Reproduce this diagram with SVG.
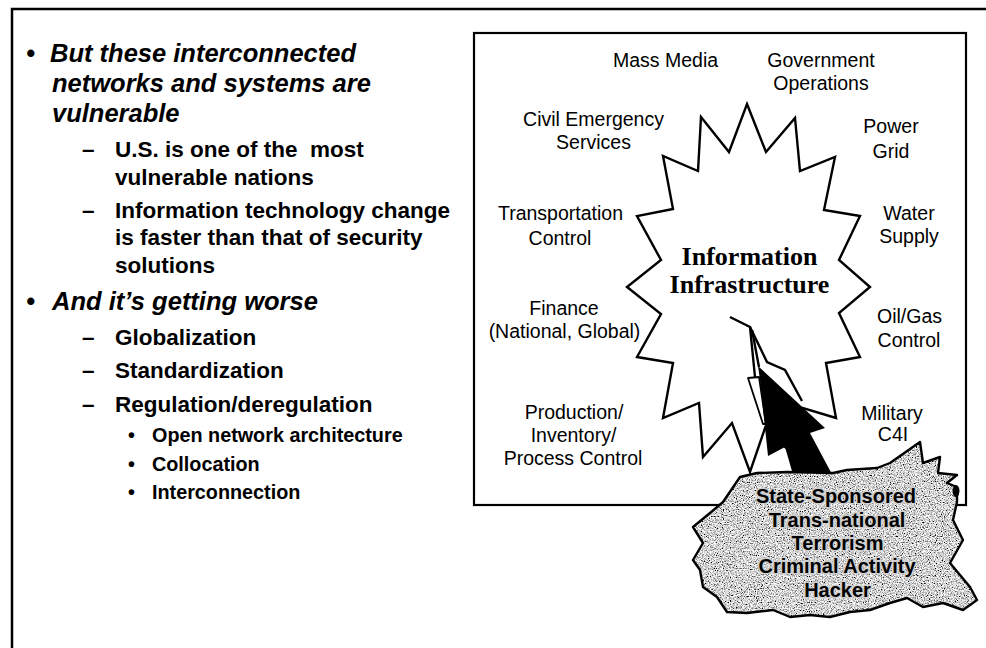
<svg xmlns="http://www.w3.org/2000/svg" width="986" height="648" viewBox="0 0 986 648">
<style>
.l1{font-family:"Liberation Sans",Arial,sans-serif;font-weight:bold;font-style:italic;font-size:25.5px;fill:#000}
.l2{font-family:"Liberation Sans",Arial,sans-serif;font-weight:bold;font-size:22.5px;fill:#000}
.l3{font-family:"Liberation Sans",Arial,sans-serif;font-weight:bold;font-size:19.8px;fill:#000}
.lab{font-family:"Liberation Sans",Arial,sans-serif;font-size:19.5px;fill:#000;text-anchor:middle}
.core{font-family:"Liberation Serif","Times New Roman",serif;font-weight:bold;font-size:26px;fill:#000;text-anchor:middle}
.thr{font-family:"Liberation Sans",Arial,sans-serif;font-weight:bold;font-size:20px;fill:#000;text-anchor:middle;stroke:#cfcfcf;stroke-width:3px;paint-order:stroke;stroke-linejoin:round}
.edge{fill:none;stroke:#000;stroke-width:2.4;stroke-linejoin:miter}
</style>
<defs>
<filter id="speckle" x="0" y="0" width="1" height="1">
<feTurbulence type="fractalNoise" baseFrequency="0.85" numOctaves="2" seed="7" result="noise"/>
<feColorMatrix in="noise" type="matrix" values="2.6 0 0 0 -0.65  2.6 0 0 0 -0.65  2.6 0 0 0 -0.65  0 0 0 0 1" result="gray"/>
<feComposite in="gray" in2="SourceGraphic" operator="in"/>
</filter>
</defs>
<rect width="986" height="648" fill="#fff"/>
<path d="M12,648 V9 H986" fill="none" stroke="#000" stroke-width="2.5"/>

<g id="text-left">
<text class="l1" x="26" y="62" font-style="normal">•</text>
<text class="l1" x="50" y="62">But these interconnected</text>
<text class="l1" x="52" y="92">networks and systems are</text>
<text class="l1" x="52" y="122">vulnerable</text>
<text class="l2" x="82" y="157">–</text>
<text class="l2" x="115" y="157">U.S. is one of the&#160; most</text>
<text class="l2" x="115" y="185">vulnerable nations</text>
<text class="l2" x="82" y="218">–</text>
<text class="l2" x="115" y="218">Information technology change</text>
<text class="l2" x="115" y="245">is faster than that of security</text>
<text class="l2" x="115" y="273">solutions</text>
<text class="l1" x="26" y="310" font-style="normal">•</text>
<text class="l1" x="52" y="310">And it’s getting worse</text>
<text class="l2" x="82" y="345">–</text>
<text class="l2" x="115" y="345">Globalization</text>
<text class="l2" x="82" y="378">–</text>
<text class="l2" x="115" y="378">Standardization</text>
<text class="l2" x="82" y="412">–</text>
<text class="l2" x="115" y="412">Regulation/deregulation</text>
<text class="l3" x="128" y="442">•</text>
<text class="l3" x="152" y="442">Open network architecture</text>
<text class="l3" x="128" y="471">•</text>
<text class="l3" x="152" y="471">Collocation</text>
<text class="l3" x="128" y="499">•</text>
<text class="l3" x="152" y="499">Interconnection</text>
</g>

<g id="frame">
<rect x="474" y="33" width="492" height="472" fill="#fff" stroke="#000" stroke-width="2.2"/>
</g>

<g id="info-infrastructure">
<polygon class="edge" fill="#fff" points="747,104 766,152 795,118 800,171 835,157 824,210 860,216 839,260 870,287 839,313 860,357 826,363 836,418 803,408 797,458 765,428 750,472 732,423 703,457 699,403 663,418 673,363 637,357 661,314 627,287 661,260 637,216 673,209 663,156 698,171 701,117 729,152"/>
<text class="core" x="749.5" y="265">Information</text>
<text class="core" x="749.5" y="293">Infrastructure</text>
</g>

<g id="label-mass-media"><text class="lab" x="665.5" y="67">Mass Media</text></g>
<g id="label-government"><text class="lab" x="821" y="67">Government</text><text class="lab" x="821" y="90">Operations</text></g>
<g id="label-civil"><text class="lab" x="593.5" y="126">Civil Emergency</text><text class="lab" x="593.5" y="149">Services</text></g>
<g id="label-power"><text class="lab" x="891" y="133">Power</text><text class="lab" x="891" y="158">Grid</text></g>
<g id="label-transport"><text class="lab" x="560.5" y="220">Transportation</text><text class="lab" x="560" y="245">Control</text></g>
<g id="label-water"><text class="lab" x="909" y="220">Water</text><text class="lab" x="909" y="243">Supply</text></g>
<g id="label-finance"><text class="lab" x="564" y="315">Finance</text><text class="lab" x="564.5" y="338">(National, Global)</text></g>
<g id="label-oilgas"><text class="lab" x="909.5" y="323">Oil/Gas</text><text class="lab" x="909" y="347">Control</text></g>
<g id="label-production"><text class="lab" x="574" y="419">Production/</text><text class="lab" x="573.5" y="442">Inventory/</text><text class="lab" x="573" y="465">Process Control</text></g>
<g id="label-military"><text class="lab" x="892" y="420">Military</text><text class="lab" x="893" y="441">C4I</text></g>

<g id="connectors">
<polyline class="edge" points="730,317 750,327 755,377"/>
<polyline class="edge" points="752,330 759,367"/>
<polyline class="edge" points="750,327 767,362 785,370 802,401"/>
<polygon points="748,378 759,377 766,424 763,424" fill="#fff" stroke="#000" stroke-width="1.8" stroke-linejoin="round"/>
<polygon points="758,366 825,428 810,433 834,478 794,478 785,447 768,456 760,380" fill="#000"/>
</g>

<g id="threats">
<path d="M740,477 L757,473 787,472 833,473 847,470 877,468 890,463 920,442 923,463 940,457 938,473 957,475 947,483 957,487 957,502 953,520 963,540 950,563 970,587 977,600 963,610 943,603 923,607 907,598 890,603 870,610 850,612 830,617 810,615 790,617 773,610 747,613 727,612 717,597 703,587 700,570 693,560 703,543 693,527 710,513 723,502 Z" fill="#000" filter="url(#speckle)"/>
<path d="M740,477 L757,473 787,472 833,473 847,470 877,468 890,463 920,442 923,463 940,457 938,473 957,475 947,483 957,487 957,502 953,520 963,540 950,563 970,587 977,600 963,610 943,603 923,607 907,598 890,603 870,610 850,612 830,617 810,615 790,617 773,610 747,613 727,612 717,597 703,587 700,570 693,560 703,543 693,527 710,513 723,502 Z" fill="none" stroke="#000" stroke-width="2.4" stroke-linejoin="round"/>
<ellipse cx="956" cy="491" rx="3.5" ry="6" fill="#000"/>
<text class="thr" x="836" y="503">State-Sponsored</text>
<text class="thr" x="837" y="527">Trans-national</text>
<text class="thr" x="837.5" y="550">Terrorism</text>
<text class="thr" x="837" y="573">Criminal Activity</text>
<text class="thr" x="837.5" y="597">Hacker</text>
</g>
</svg>
